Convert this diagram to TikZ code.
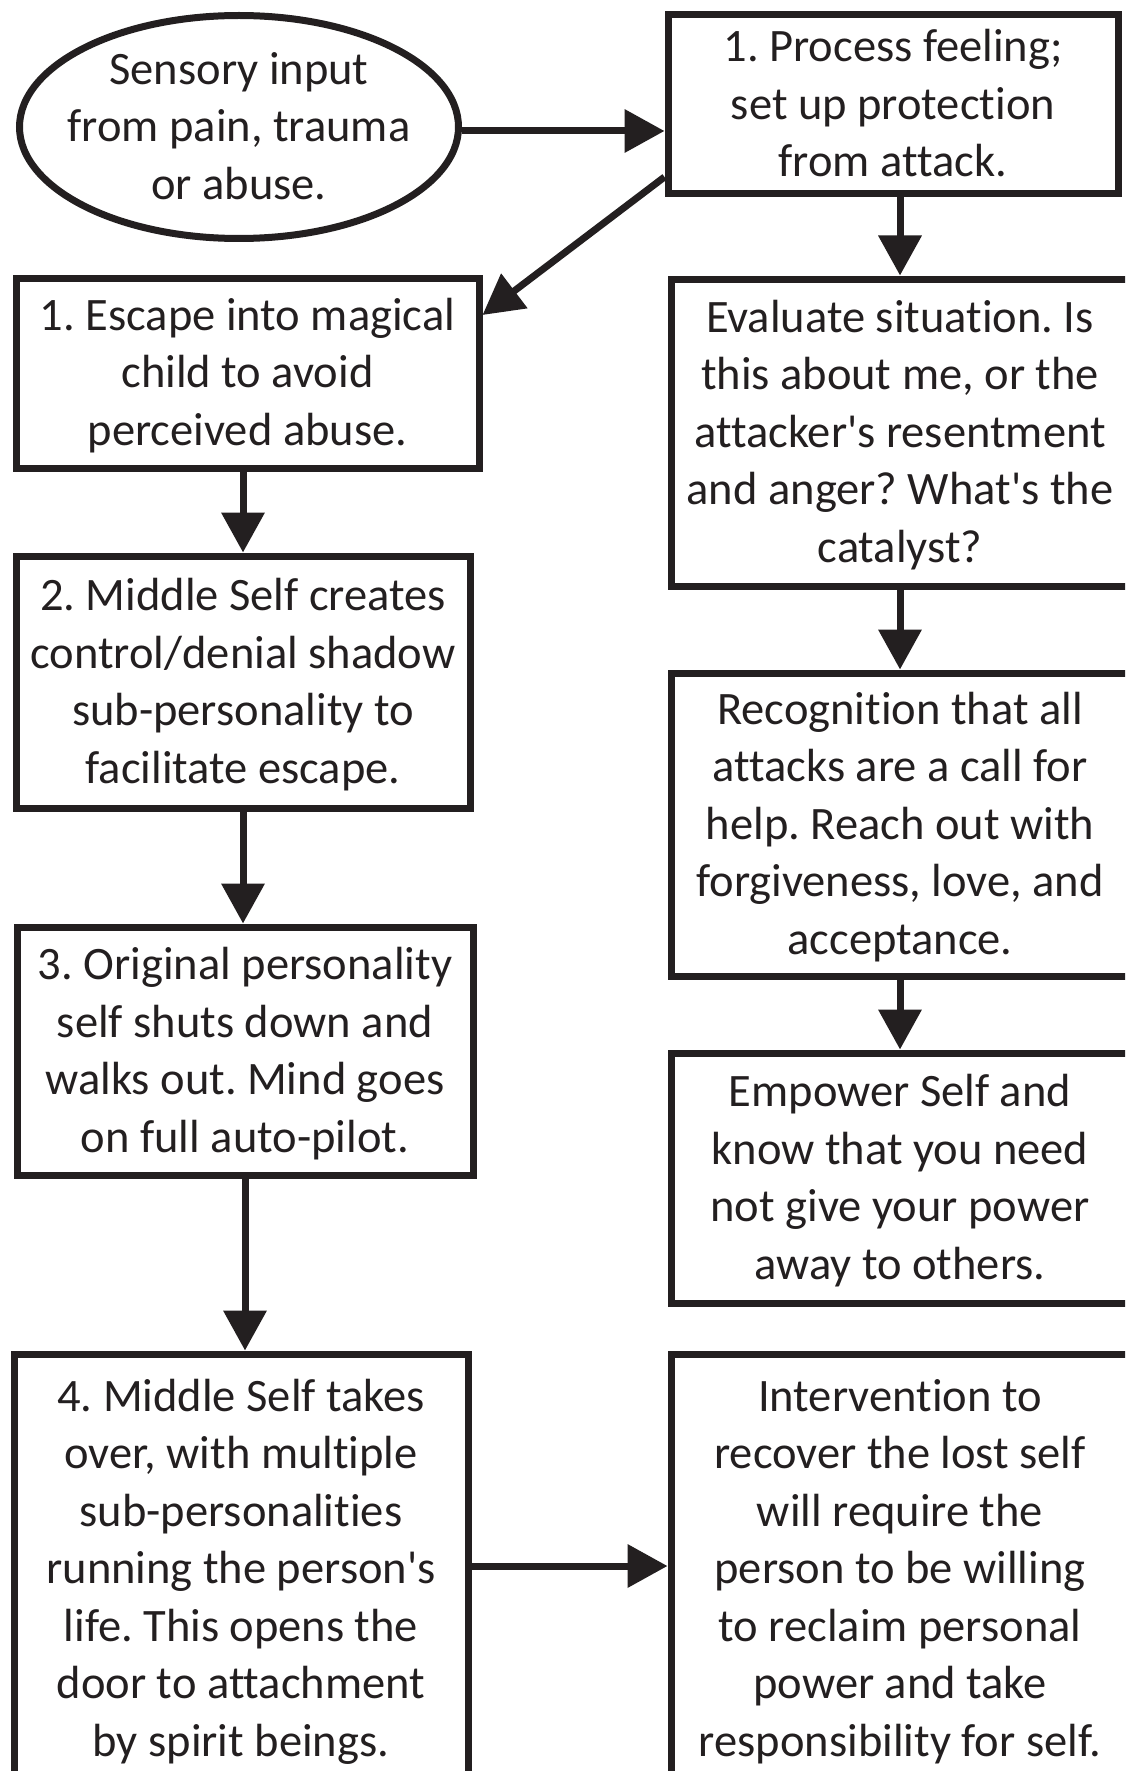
\documentclass[tikz,border=0pt]{standalone}
\usepackage{fontspec}
\setmainfont{Carlito}[Ligatures={NoCommon,NoContextual,NoRare}]
\usetikzlibrary{arrows.meta,shapes.geometric}
\definecolor{ink}{RGB}{35,31,32}
\newcommand\fs{\rule[-0.3em]{0pt}{1.244em}}
\frenchspacing
\begin{document}
\frenchspacing
\begin{tikzpicture}[x=1pt,y=-1pt,
  every node/.style={font=\fontsize{46.5}{57.5}\selectfont\frenchspacing, text=ink},
  box/.style={draw=ink, line width=7pt, rectangle, inner sep=0pt, align=center},
  oval/.style={ellipse, draw=ink, line width=7pt, inner sep=-60pt, align=center},
  arr/.style={draw=ink, line width=7pt, -{Triangle[length=40pt,width=42pt]}}]
\useasboundingbox (0,0) rectangle (1125,1771);
\clip (0,0) rectangle (1125,1771);
\fill[white] (0,0) rectangle (1125,1771);

\node[oval, minimum width=439pt, minimum height=223pt] (el) at (239,127)
  {\fs Sensory input\\from pain, trauma\\or abuse.\fs};
\node[box, minimum width=450pt, minimum height=179pt] (P) at (893,104.5)
  {\fs 1. Process feeling;\\set up protection\\from attack.\fs};
\node[box, minimum width=463pt, minimum height=190pt] (Es) at (247.5,373)
  {\fs 1. Escape into magical\\child to avoid\\perceived abuse.\fs};
\node[box, minimum width=454pt, minimum height=252pt] (Mi) at (243,682)
  {\fs 2. Middle Self creates\\control/denial shadow\\sub-personality to\\facilitate escape.\fs};
\node[box, minimum width=456pt, minimum height=248pt] (Or) at (245,1051)
  {\fs 3. Original personality\\self shuts down and\\walks out. Mind goes\\on full auto-pilot.\fs};
\node[box, minimum width=454pt, minimum height=430pt] (B4) at (241,1569)
  {\fs 4. Middle Self takes\\over, with multiple\\sub-personalities\\running the person\textquotesingle s\\life. This opens the\\door to attachment\\by spirit beings.\fs};

\node[box, minimum width=458pt, minimum height=307pt] (Ev) at (900,432.5)
  {\fs Evaluate situation. Is\\this about me, or the\\attacker\textquotesingle s resentment\\and anger? What\textquotesingle s the\\catalyst?\fs};
\node[box, minimum width=458pt, minimum height=303pt] (Rec) at (900,824.5)
  {\fs Recognition that all\\attacks are a call for\\help. Reach out with\\forgiveness, love, and\\acceptance.\fs};
\node[box, minimum width=458pt, minimum height=250pt] (Emp) at (900,1178)
  {\fs Empower Self and\\know that you need\\not give your power\\away to others.\fs};
\node[box, minimum width=458pt, minimum height=430pt] (Int) at (900,1569)
  {\fs Intervention to\\recover the lost self\\will require the\\person to be willing\\to reclaim personal\\power and take\\responsibility for self.\fs};

\draw[arr] ([yshift=-4pt]el.east) -- ([yshift=-4pt]el.east -| P.west);
\draw[arr] ([yshift=-72.5pt]P.west) -- ([yshift=58pt]Es.east);
\draw[arr] (P.south -| Ev.north) -- (Ev.north);
\draw[arr] (Es.south -| Mi.north) -- (Mi.north);
\draw[arr] (Mi.south) -- (Mi.south |- Or.north);
\draw[arr] (Or.south) -- (Or.south |- B4.north);
\draw[arr] (Ev.south) -- (Rec.north);
\draw[arr] (Rec.south) -- (Emp.north);
\draw[arr] ([yshift=3pt]B4.east) -- ([yshift=3pt]B4.east -| Int.west);
\end{tikzpicture}
\end{document}
